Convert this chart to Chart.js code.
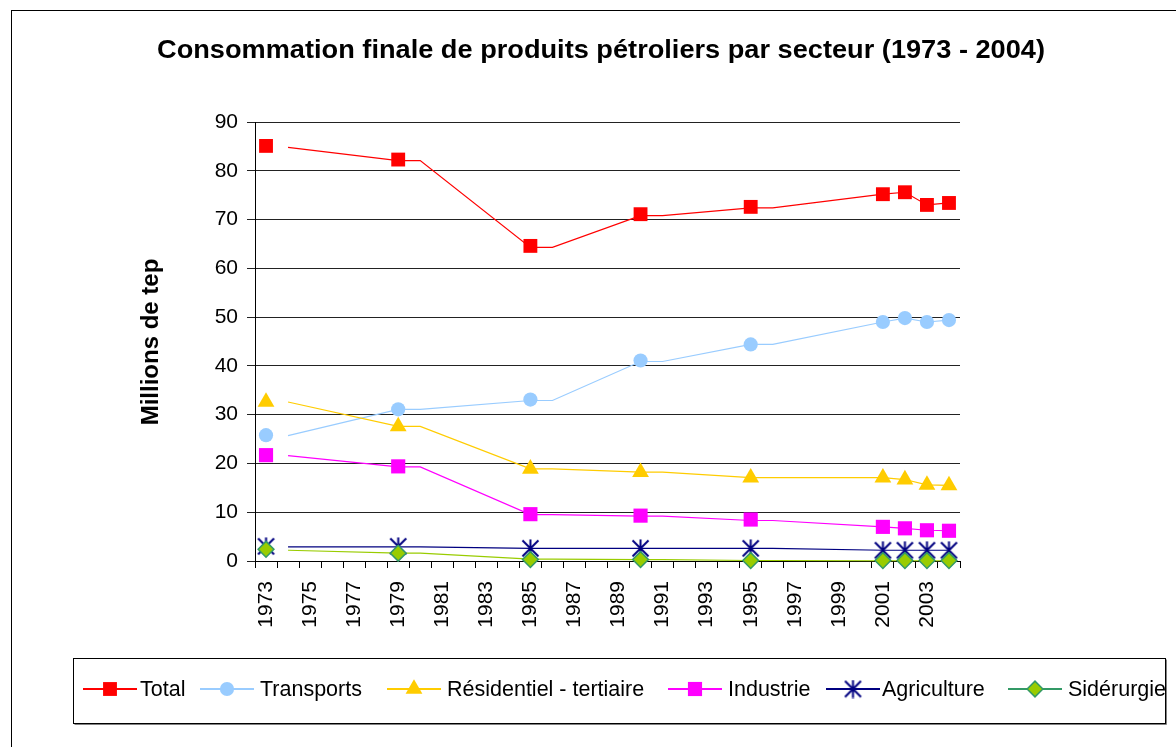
<!DOCTYPE html>
<html><head><meta charset="utf-8">
<script src="https://cdn.jsdelivr.net/npm/chart.js@4/dist/chart.umd.min.js"></script>
<style>html,body{margin:0;padding:0;background:#fff}#wrap{width:1176px;height:747px;position:relative}canvas{display:block}</style>
</head><body><div id="wrap"><canvas id="c" width="1176" height="747"></canvas></div>
<script>
const chartTitle = 'Consommation finale de produits pétroliers par secteur (1973 - 2004)';
const yAxisTitle = 'Millions de tep';
const categories = ['1973','1974','1975','1976','1977','1978','1979','1980','1981','1982','1983','1984','1985','1986','1987','1988','1989','1990','1991','1992','1993','1994','1995','1996','1997','1998','1999','2000','2001','2002','2003','2004'];
const yTicks = [0,10,20,30,40,50,60,70,80,90];
const seriesNames = ['Total','Transports','Résidentiel - tertiaire','Industrie','Agriculture','Sidérurgie'];

// marker years and values
const markerYears = ['1973','1979','1985','1990','1995','2001','2002','2003','2004'];
const totalValues       = [85.1, 82.3, 64.6, 71.1, 72.6, 75.2, 75.6, 73.0, 73.4];
const transportsValues  = [25.8, 31.1, 33.1, 41.1, 44.4, 49.0, 49.8, 49.0, 49.4];
const residentielValues = [32.6, 27.6, 18.9, 18.2, 17.1, 17.1, 16.7, 15.6, 15.5];
const industrieValues   = [21.7, 19.4, 9.6, 9.3, 8.5, 7.0, 6.7, 6.3, 6.2];
const agricultureValues = [3.0, 3.0, 2.6, 2.6, 2.6, 2.2, 2.2, 2.2, 2.2];
const siderurgieValues  = [2.4, 1.6, 0.3, 0.3, 0.1, 0.1, 0.1, 0.1, 0.1];

// connecting lines as drawn in the picture
const lineYears = ['1974','1979','1980','1985','1986','1990','1991','1995','1996','2001','2002','2003','2004'];
const totalLine       = [84.8, 82.1, 82.1, 64.3, 64.3, 70.8, 70.8, 72.4, 72.4, 75.2, 75.6, 73.0, 73.4];
const transportsLine  = [25.7, 31.1, 31.1, 32.9, 32.9, 40.9, 40.9, 44.4, 44.4, 49.0, 49.8, 49.0, 49.4];
const residentielLine = [32.6, 27.6, 27.6, 18.9, 18.9, 18.2, 18.2, 17.1, 17.1, 17.1, 16.7, 15.6, 15.5];
const industrieLine   = [21.6, 19.3, 19.3, 9.5, 9.5, 9.2, 9.2, 8.3, 8.3, 7.0, 6.7, 6.3, 6.2];
const agricultureLine = [2.9, 2.9, 2.9, 2.6, 2.6, 2.6, 2.6, 2.6, 2.6, 2.2, 2.2, 2.2, 2.2];
const siderurgieLine  = [2.2, 1.6, 1.6, 0.4, 0.4, 0.3, 0.3, 0.1, 0.1, 0.05, 0.05, 0.05, 0.05];

const FONT = '"Liberation Sans", Arial, Helvetica, sans-serif';

function toFull(years, vals){
  const out = categories.map(()=>null);
  years.forEach((y,i)=>{ const k = categories.indexOf(y); if(k>=0) out[k]=vals[i]; });
  return out;
}

function makeStar(){
  const c = document.createElement('canvas'); c.width = 19; c.height = 19;
  const x = c.getContext('2d');
  x.strokeStyle = '#000080'; x.lineWidth = 2; x.lineCap = 'butt';
  x.beginPath();
  x.moveTo(1.5,1.5); x.lineTo(17.5,17.5);
  x.moveTo(17.5,1.5); x.lineTo(1.5,17.5);
  x.moveTo(9.5,0.5); x.lineTo(9.5,18.5);
  x.stroke();
  return c;
}
const starImg = makeStar();

const styles = [
  {line:'#FF0000', fill:'#FF0000', border:'#FF0000', shape:'rect', r:9.8, bw:0},
  {line:'#99CCFF', fill:'#99CCFF', border:'#99CCFF', shape:'circle', r:7.1, bw:0},
  {line:'#FFCC00', fill:'#FFCC00', border:'#FFCC00', shape:'triangle', r:9.7, bw:0},
  {line:'#FF00FF', fill:'#FF00FF', border:'#FF00FF', shape:'rect', r:10, bw:0},
  {line:'#000080', fill:'#000080', border:'#000080', shape:starImg, r:9, bw:0},
  {line:'#99CC00', legendLine:'#339966', fill:'#99CC00', border:'#339966', shape:'rectRot', r:7.9, bw:1.5}
];
const markerData = [totalValues, transportsValues, residentielValues, industrieValues, agricultureValues, siderurgieValues];
const lineData = [totalLine, transportsLine, residentielLine, industrieLine, agricultureLine, siderurgieLine];

const datasets = [];
seriesNames.forEach((name,i)=>{
  const s = styles[i];
  datasets.push({
    label: name, data: toFull(markerYears, markerData[i]), showLine:false,
    pointStyle: s.shape, pointRadius: s.r, pointBackgroundColor: s.fill,
    pointBorderColor: s.border, pointBorderWidth: s.bw, order: 10 - i
  });
});
seriesNames.forEach((name,i)=>{
  const s = styles[i];
  datasets.push({
    label: name + ' (ligne)', data: toFull(lineYears, lineData[i]), spanGaps:true,
    borderColor: s.line, borderWidth: 1.2, pointRadius: 0, tension: 0, order: 30 - i
  });
});

function drawMarker(ctx, s, x, y){
  ctx.save();
  ctx.fillStyle = s.fill; ctx.strokeStyle = s.border; ctx.lineWidth = s.bw || 1;
  const r = s.r;
  if (s.shape instanceof HTMLCanvasElement){
    ctx.drawImage(s.shape, x - s.shape.width/2, y - s.shape.height/2);
  } else {
    ctx.beginPath();
    if (s.shape==='rect'){ const h = Math.SQRT1_2*r; ctx.rect(x-h,y-h,2*h,2*h); }
    else if (s.shape==='circle'){ ctx.arc(x,y,r,0,Math.PI*2); }
    else if (s.shape==='triangle'){ ctx.moveTo(x, y-r); ctx.lineTo(x+r*Math.sqrt(3)/2, y+r/2); ctx.lineTo(x-r*Math.sqrt(3)/2, y+r/2); ctx.closePath(); }
    else if (s.shape==='rectRot'){ ctx.moveTo(x-r,y); ctx.lineTo(x,y-r); ctx.lineTo(x+r,y); ctx.lineTo(x,y+r); ctx.closePath(); }
    ctx.fill();
    if (s.bw) ctx.stroke();
  }
  ctx.restore();
}

// legend layout (line start x, text start x)
const legendLineX = [83, 200, 387, 668, 826, 1008];
const legendTextX = [140, 260, 447, 728, 882, 1068];

const decor = {
  id:'decor',
  beforeDraw(chart){
    const ctx = chart.ctx;
    ctx.save();
    ctx.fillStyle = '#fff'; ctx.fillRect(0,0,chart.width,chart.height);
    ctx.strokeStyle = '#000'; ctx.lineWidth = 1;
    ctx.strokeRect(11.5, 10.5, chart.width + 20, chart.height + 20);
    ctx.restore();
  },
  afterDraw(chart){
    const ctx = chart.ctx;
    ctx.save();
    // title (slightly widened as in the picture)
    ctx.fillStyle = '#000';
    ctx.font = 'bold 25px ' + FONT;
    ctx.textAlign = 'center'; ctx.textBaseline = 'middle';
    ctx.save();
    ctx.translate(601, 51);
    const tw = ctx.measureText(chartTitle).width;
    ctx.scale(888 / tw, 1);
    ctx.fillText(chartTitle, 0, 0);
    ctx.restore();
    // y axis title
    ctx.save();
    ctx.translate(151, 342); ctx.rotate(-Math.PI/2);
    ctx.font = 'bold 24px ' + FONT;
    ctx.fillText(yAxisTitle, 0, 0);
    ctx.restore();
    // legend box
    const bx = 73.5, by = 658.5, bw = 1092, bh = 65;
    ctx.fillStyle = '#808080';
    ctx.fillRect(bx+1, by+bh, bw, 1.5);
    ctx.fillRect(bx+bw, by+1, 1.5, bh);
    ctx.fillStyle = '#fff'; ctx.fillRect(bx,by,bw,bh);
    ctx.strokeStyle = '#000'; ctx.lineWidth = 1; ctx.strokeRect(bx,by,bw,bh);
    // legend items
    ctx.font = '21.5px ' + FONT;
    const lineLen = 54, cy = 689;
    seriesNames.forEach((n,i)=>{
      const s = styles[i];
      const x = legendLineX[i];
      ctx.strokeStyle = s.legendLine || s.line; ctx.lineWidth = 2;
      ctx.beginPath(); ctx.moveTo(x, cy); ctx.lineTo(x+lineLen, cy); ctx.stroke();
      drawMarker(ctx, s, x + lineLen/2, cy);
      ctx.fillStyle = '#000'; ctx.textAlign = 'left'; ctx.textBaseline = 'middle';
      ctx.fillText(n, legendTextX[i], cy + 1);
    });
    ctx.restore();
  }
};

new Chart(document.getElementById('c'), {
  type:'line',
  data:{ labels: categories, datasets },
  options:{
    responsive:false, animation:false, devicePixelRatio:1, events:[],
    layout:{ padding:{ left:0, right:216, top:122, bottom:106 } },
    plugins:{ legend:{display:false}, title:{display:false}, tooltip:{enabled:false} },
    elements:{ point:{ hitRadius:0 } },
    clip:false,
    scales:{
      x:{
        type:'category', offset:true,
        grid:{ display:true, drawOnChartArea:false, drawTicks:true, tickLength:7, color:'#000', offset:true },
        border:{ display:true, color:'#000', width:1 },
        ticks:{ autoSkip:false, minRotation:90, maxRotation:90, padding:13, color:'#000',
          font:{ family:FONT, size:21 },
          callback(v, i){ return i % 2 === 0 ? categories[i] : ''; } },
        afterFit(scale){ scale.height = 80; }
      },
      y:{
        min:0, max:90,
        afterBuildTicks(scale){ scale.ticks = yTicks.map(v=>({value:v})); },
        grid:{ color:'#222', lineWidth:1, drawTicks:true, tickLength:8 },
        border:{ display:true, color:'#000', width:1 },
        ticks:{ padding:9, color:'#000', font:{ family:FONT, size:21 } },
        afterFit(scale){ scale.width = 255; }
      }
    }
  },
  plugins:[decor]
});
</script>
</body></html>
